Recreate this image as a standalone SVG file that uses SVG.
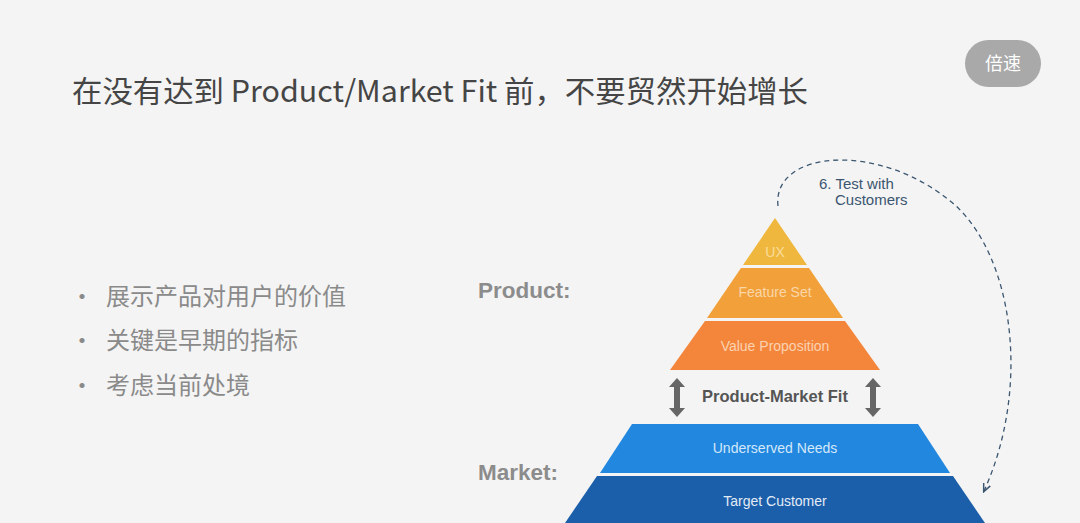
<svg xmlns="http://www.w3.org/2000/svg" width="1080" height="523" viewBox="0 0 1080 523">
<defs>
<style>
.cjk{font-family:"Noto Sans CJK SC","Noto Sans",sans-serif}
.lat{font-family:"Liberation Sans",Arial,sans-serif}
.band{font-family:"Liberation Sans",Arial,sans-serif;font-size:14px;text-anchor:middle}
.lbl{font-family:"Liberation Sans",Arial,sans-serif;font-weight:bold;font-size:22.5px;fill:#8c8c8c}
.bul{font-size:24px;fill:#8a8a8a}
.dbl{fill:#666666}
</style>
<marker id="ah" viewBox="0 0 10 10" refX="8" refY="5" markerWidth="7" markerHeight="7" orient="auto">
<path d="M0,1 L9,5 L0,9" fill="none" stroke="#3b5670" stroke-width="1.6"/>
</marker>
</defs>
<rect width="1080" height="523" fill="#f4f4f4"/>
<g id="title">
<text class="cjk" x="72" y="102" font-size="30" fill="#454545" textLength="736" lengthAdjust="spacingAndGlyphs">在没有达到 Product/Market Fit 前，不要贸然开始增长</text>
</g>
<g id="badge">
<rect x="965" y="40" width="76" height="47" rx="23.5" fill="#a9a9a9"/>
<text class="cjk" x="1003" y="70" font-size="18" fill="#ffffff" text-anchor="middle">倍速</text>
</g>
<g id="bullets" class="cjk">
<text class="bul" x="70" y="305">•</text>
<text class="bul" x="106" y="305">展示产品对用户的价值</text>
<text class="bul" x="70" y="349">•</text>
<text class="bul" x="106" y="349">关键是早期的指标</text>
<text class="bul" x="70" y="394">•</text>
<text class="bul" x="106" y="394">考虑当前处境</text>
</g>
<g id="product-label"><text class="lbl" x="478" y="298">Product:</text></g>
<g id="market-label"><text class="lbl" x="478" y="480">Market:</text></g>
<g id="ux">
<polygon points="775,218 807,265 743,265" fill="#f0b73e"/>
<text class="band" x="775" y="257" fill="#f9dd9a">UX</text>
</g>
<g id="feature-set">
<polygon points="741,268 809,268 843,318 707,318" fill="#f2a03a"/>
<text class="band" x="775" y="297" fill="#fad7a8">Feature Set</text>
</g>
<g id="value-proposition">
<polygon points="705,321 845,321 880,370 670,370" fill="#f4863c"/>
<text class="band" x="775" y="351" fill="#fbd2b0">Value Proposition</text>
</g>
<g id="pmf">
<text class="lat" x="775" y="402" font-size="16.5" font-weight="bold" fill="#555555" text-anchor="middle">Product-Market Fit</text>
</g>
<g id="underserved-needs">
<polygon points="632,424 918,424 950,473 600,473" fill="#2287df"/>
<text class="band" x="775" y="453" fill="#d4e8fa">Underserved Needs</text>
</g>
<g id="target-customer">
<polygon points="597,476 953,476 985,523 565,523" fill="#1b5ea9"/>
<text class="band" x="775" y="506" fill="#e3ecf6">Target Customer</text>
</g>
<g id="test-label">
<text class="lat" font-size="15" fill="#3b5670"><tspan x="819" y="189">6. Test with</tspan><tspan x="835" y="205">Customers</tspan></text>
</g>
<g id="connectors">
<path class="dbl" d="M677,378 L685,387 L680,387 L680,408 L685,408 L677,417 L669,408 L674,408 L674,387 L669,387 Z"/>
<path class="dbl" d="M873,378 L881,387 L876,387 L876,408 L881,408 L873,417 L865,408 L870,408 L870,387 L865,387 Z"/>
<path d="M778,206 C772,150 880,140 955,205 C1015,260 1030,390 984,491" fill="none" stroke="#3b5670" stroke-width="1.3" stroke-dasharray="5,4" marker-end="url(#ah)"/>
</g>
</svg>
